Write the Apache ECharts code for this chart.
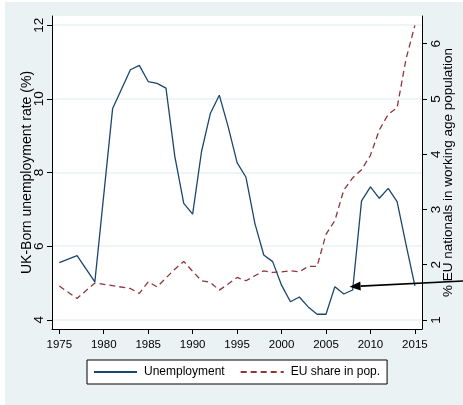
<!DOCTYPE html>
<html><head><meta charset="utf-8">
<script src="https://cdn.jsdelivr.net/npm/echarts@6/dist/echarts.min.js"></script>
<style>
html,body{margin:0;padding:0;background:#fff;}
#bg{position:absolute;left:5px;top:2px;right:0;bottom:0;background:#eaf2f3;}
#main{position:absolute;left:0;top:0;width:463px;height:405px;}
</style></head>
<body><div id="bg"></div><div id="main"></div>
<script>
const years = [1975,1977,1979,1981,1983,1984,1985,1986,1987,1988,1989,1990,1991,1992,1993,1994,1995,1996,1997,1998,1999,2000,2001,2002,2003,2004,2005,2006,2007,2008,2009,2010,2011,2012,2013,2014,2015];
const unemployment = [5.55,5.74,5.03,9.74,10.79,10.91,10.47,10.42,10.29,8.43,7.16,6.87,8.57,9.61,10.10,9.24,8.27,7.87,6.62,5.76,5.58,4.94,4.49,4.62,4.35,4.15,4.15,4.90,4.70,4.81,7.23,7.61,7.30,7.57,7.21,6.05,4.92];
const euShare = [1.615,1.39,1.67,1.62,1.57,1.48,1.69,1.60,1.76,1.92,2.06,1.88,1.71,1.68,1.54,1.65,1.77,1.71,1.80,1.89,1.86,1.87,1.89,1.87,1.97,1.97,2.55,2.80,3.35,3.57,3.72,3.98,4.44,4.72,4.84,5.72,6.33];
const xTicks = [1975,1980,1985,1990,1995,2000,2005,2010,2015];
const leftTicks = [4,6,8,10,12];
const rightTicks = [1,2,3,4,5,6];
const arrowTarget = [2007.65, 4.9];

const regular = '"Liberation Sans",Arial,sans-serif';

const chart = echarts.init(document.getElementById('main'), null, {renderer:'canvas'});
const axisLineStyle = {color:'#000', width:1};
chart.setOption({
  animation:false,
  backgroundColor:'transparent',
  grid:{left:52, right:40, top:16, bottom:76, show:true, backgroundColor:'#fff', borderWidth:0, containLabel:false},
  legend:{
    left:87, top:360, orient:'horizontal',
    backgroundColor:'#fff', borderColor:'#000', borderWidth:1,
    padding:[6,7,6,6], itemWidth:43, itemHeight:14, itemGap:15,
    itemStyle:{color:'rgba(0,0,0,0)', borderWidth:0, opacity:0},
    textStyle:{fontFamily:regular, fontSize:12, color:'#000', padding:[0,0,0,2]},
    data:['Unemployment','EU share in pop.']
  },
  xAxis:{
    type:'value', min:1974.18, max:2015.8,
    axisLine:{show:true, lineStyle:axisLineStyle},
    axisTick:{show:true, length:5, lineStyle:axisLineStyle, customValues:xTicks},
    axisLabel:{customValues:xTicks, fontFamily:regular, fontSize:11.5, color:'#000', margin:10, formatter:v=>String(v)},
    splitLine:{show:false}
  },
  yAxis:[{
    type:'value', position:'left', min:3.75, max:12.25,
    name:'UK-Born unemployment rate (%)', nameLocation:'middle', nameRotate:90, nameGap:18, nameMoveOverlap:false,
    nameTextStyle:{fontFamily:regular, fontSize:14, color:'#000'},
    axisLine:{show:true, lineStyle:axisLineStyle},
    axisTick:{show:true, length:5, lineStyle:axisLineStyle, customValues:leftTicks},
    axisLabel:{customValues:leftTicks, rotate:90, align:'center', verticalAlign:'bottom', fontFamily:regular, fontSize:13.5, color:'#000', margin:6},
    splitLine:{show:true, lineStyle:{color:'#eaf2f3', width:1.5}}
  },{
    type:'value', position:'right', min:0.837, max:6.5,
    name:'% EU nationals in working age population', nameLocation:'middle', nameRotate:90, nameGap:19, nameMoveOverlap:false,
    nameTextStyle:{fontFamily:regular, fontSize:13.5, color:'#000'},
    axisLine:{show:true, lineStyle:axisLineStyle},
    axisTick:{show:true, length:5, lineStyle:axisLineStyle, customValues:rightTicks},
    axisLabel:{customValues:rightTicks, rotate:90, align:'center', verticalAlign:'top', fontFamily:regular, fontSize:13.5, color:'#000', margin:7},
    splitLine:{show:false}
  }],
  series:[{
    name:'Unemployment', type:'line', yAxisIndex:0, symbol:'none', showSymbol:false,
    data:years.map((y,i)=>[y,unemployment[i]]),
    lineStyle:{color:'#1a476f', width:1.3}, itemStyle:{color:'#1a476f'}
  },{
    name:'EU share in pop.', type:'line', yAxisIndex:1, symbol:'none', showSymbol:false,
    data:years.map((y,i)=>[y,euShare[i]]),
    lineStyle:{color:'#90353b', width:1.3, type:[6,4]}, itemStyle:{color:'#90353b'}
  }]
});

const tip = chart.convertToPixel({xAxisIndex:0, yAxisIndex:0}, arrowTarget);
const W = chart.getWidth();
const start = [W, tip[1]-5.6];
const dx = tip[0]-start[0], dy = tip[1]-start[1];
const len = Math.sqrt(dx*dx+dy*dy);
const ux = dx/len, uy = dy/len;
const headLen = 11, headW = 4.5;
const base = [tip[0]-ux*headLen, tip[1]-uy*headLen];
chart.setOption({
  graphic:[
    {type:'line', shape:{x1:start[0], y1:start[1], x2:base[0], y2:base[1]}, style:{stroke:'#000', lineWidth:1.6}, z:100},
    {type:'polygon', shape:{points:[tip,[base[0]-uy*headW, base[1]+ux*headW],[base[0]+uy*headW, base[1]-ux*headW]]}, style:{fill:'#000'}, z:100}
  ]
});
</script></body></html>
